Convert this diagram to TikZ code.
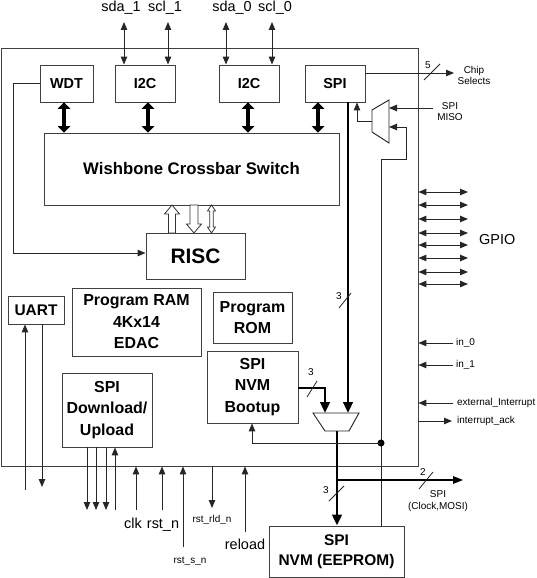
\documentclass[tikz,border=0pt]{standalone}
\usepackage{fontspec}
\setmainfont{Liberation Sans}
\usetikzlibrary{arrows.meta}
\tikzset{
  ln/.style={draw=black!85, line width=0.95bp},
  box/.style={draw=black!75, line width=0.9bp, fill=white, inner sep=0pt, align=center},
  topbox/.style={box, font=\fontsize{14.5}{17}\selectfont\bfseries},
  midbox/.style={box, font=\fontsize{16}{21.5}\selectfont\bfseries},
  arr/.style={ln, -{Triangle[length=8bp,width=6.5bp]}},
  darr/.style={ln, {Triangle[length=8bp,width=6.5bp]}-{Triangle[length=8bp,width=6.5bp]}},
  bus/.style={draw=black, line width=2.8bp, -{Triangle[length=11bp,width=9.5bp]}},
  fat/.style={draw=black, line width=4.5bp, {Triangle[length=6.5bp,width=12.5bp]}-{Triangle[length=6.5bp,width=12.5bp]}},
  hollow/.style={draw=black!80, line width=0.8bp, fill=white},
  lbl/.style={font=\fontsize{14.5}{17}\selectfont, inner sep=0pt},
  sml/.style={font=\fontsize{10}{11.5}\selectfont, inner sep=0pt, align=center},
  slash/.style={draw=black!85, line width=0.8bp},
}
\begin{document}
\begin{tikzpicture}[x=1bp,y=-1bp]
\useasboundingbox (0,0) rectangle (537,578);
\fill[white] (0,0) rectangle (537,578);

% chip outline
\node[draw=black!75, line width=0.9bp, minimum width=417bp, minimum height=418bp, inner sep=0pt] (chip) at (209.5,257) {};

% top blocks
\node[topbox, minimum width=53bp, minimum height=37bp] (wdt) at (66.5,83.5) {WDT};
\node[topbox, minimum width=60bp, minimum height=37bp] (i2ca) at (145,83.5) {I2C};
\node[topbox, minimum width=60bp, minimum height=37bp] (i2cb) at (249,83.5) {I2C};
\node[topbox, minimum width=60bp, minimum height=37bp] (spi) at (335,83.5) {SPI};

\node[box, minimum width=295bp, minimum height=72bp, font=\fontsize{16.8}{19}\selectfont\bfseries] (xbar) at (191.5,169) {\raisebox{-3bp}{Wishbone Crossbar Switch}};
\node[box, minimum width=99bp, minimum height=46bp, font=\fontsize{21}{24}\selectfont\bfseries] (risc) at (195.5,256) {RISC};

\node[box, minimum width=56bp, minimum height=28bp, font=\fontsize{15.5}{18}\selectfont\bfseries] (uart) at (36,310) {UART};
\node[midbox, minimum width=129bp, minimum height=68bp] (ram) at (136.5,322) {Program RAM\\4Kx14\\EDAC};
\node[midbox, minimum width=79bp, minimum height=51bp] (rom) at (252.5,317.5) {Program\\ROM};
\node[midbox, minimum width=91bp, minimum height=72bp] (boot) at (252.5,387) {SPI\\NVM\\Bootup};
\node[midbox, minimum width=90bp, minimum height=74bp] (dl) at (107,410) {SPI\\Download/\\Upload};
\node[box, minimum width=135bp, minimum height=51bp, font=\fontsize{15.5}{20}\selectfont\bfseries] (eep) at (336.5,551.5) {SPI\\NVM (EEPROM)};

% top I/O
\node[lbl, anchor=base] (lsda1) at (121,12) {sda\_1};
\node[lbl, anchor=base] (lscl1) at (165,12) {scl\_1};
\node[lbl, anchor=base] (lsda0) at (232,12) {sda\_0};
\node[lbl, anchor=base] (lscl0) at (275,12) {scl\_0};
\coordinate (psda1) at (124,22);
\coordinate (pscl1) at (168,22);
\coordinate (psda0) at (226,22);
\coordinate (pscl0) at (272,22);
\draw[darr] (psda1) -- (psda1 |- i2ca.north);
\draw[darr] (pscl1) -- (pscl1 |- i2ca.north);
\draw[darr] (psda0) -- (psda0 |- i2cb.north);
\draw[darr] (pscl0) -- (pscl0 |- i2cb.north);

% fat bus arrows to crossbar
\draw[fat] (wdt.south -| 64,0) -- (xbar.north -| 64,0);
\draw[fat] (i2ca.south -| 148,0) -- (xbar.north -| 148,0);
\draw[fat] (i2cb.south -| 248,0) -- (xbar.north -| 248,0);
\draw[fat] (spi.south -| 318,0) -- (xbar.north -| 318,0);

% hollow arrows crossbar <-> RISC
\draw[hollow] (172,205) -- (179.5,214) -- (175.5,214) -- (175.5,233) -- (168.5,233) -- (168.5,214) -- (164.5,214) -- cycle;
\draw[hollow] (194,233) -- (201.5,224) -- (198,224) -- (198,205) -- (190,205) -- (190,224) -- (186.5,224) -- cycle;
\draw[hollow] (211.5,205) -- (215.5,211) -- (213.3,211) -- (213.3,227) -- (215.5,227) -- (211.5,233) -- (207.5,227) -- (209.7,227) -- (209.7,211) -- (207.5,211) -- cycle;

% WDT -> RISC
\draw[arr] (wdt.west) -- (13,83.5) -- (13,253) -- (risc.west |- 0,253);

% SPI outputs
\coordinate (cs) at (454,73);
\draw[arr] (spi.east |- cs) -- (cs);
\draw[slash] (424,80) -- (440,64);
\node[sml] (l5) at (428,65) {5};
\node[sml] (lcs) at (474,75.5) {Chip\\Selects};

% top MISO mux
\draw[ln, fill=white] (372,110) -- (389,100) -- (389,143) -- (372,132) -- cycle;
\coordinate (mmo) at (372,121);
\draw[arr] (mmo) -- (357,121) -- (spi.south -| 357,0);
\coordinate (miso) at (433,108);
\draw[arr] (miso) -- (389,108);
\node[sml] (lmiso) at (450,111.5) {SPI\\MISO};
\draw[arr] (eep.north -| 381,0) -- (381,159) -- (406,159) -- (406,127) -- (389,127);

% bottom mux
\draw[ln, fill=white] (313,413) -- (359,413) -- (349,431) -- (325,431) -- cycle;
\draw[bus] (spi.south -| 348,0) -- (348,413);
\draw[slash] (339,308) -- (351,293);
\node[sml] (l3a) at (339,296) {3};
\draw[bus] (boot.east |- 0,388) -- (325,388) -- (325,413);
\draw[slash] (307,397) -- (317,381);
\node[sml] (l3b) at (311,372) {3};
\draw[bus] (337,431) -- (eep.north -| 337,0);
\draw[slash] (329,501) -- (344,486);
\node[sml] (l3c) at (326,490) {3};
\coordinate (mosi) at (463,480);
\draw[draw=black, line width=1.4bp, -{Triangle[length=10bp,width=7.5bp]}] (337,480) -- (mosi);
\draw[slash] (419,489) -- (433,472);
\node[sml] (l2) at (423,472) {2};
\node[sml] (lmosi) at (438,501) {SPI\\(Clock,MOSI)};

% junction to bootup
\fill[black] (381,443) circle (3.5bp);
\draw[arr] (381,443) -- (252,443) -- (boot.south -| 252,0);

% GPIO
\foreach \yy in {192,205,219,233,245,258,272,284}{
  \draw[darr] (chip.east |- 0,\yy) -- (468,\yy);
}
\node[lbl, anchor=west] (lgpio) at (479,240) {GPIO};

% right inputs
\draw[arr] (453,343) -- (chip.east |- 0,343);
\node[sml, anchor=west] (lin0) at (456,343) {in\_0};
\draw[arr] (453,365) -- (chip.east |- 0,365);
\node[sml, anchor=west] (lin1) at (456,365) {in\_1};
\draw[arr] (453,403) -- (chip.east |- 0,403);
\node[sml, anchor=west] (lext) at (457,403) {external\_Interrupt};
\draw[arr] (chip.east |- 0,421) -- (452,421);
\node[sml, anchor=west] (lack) at (457,421) {interrupt\_ack};

% UART pins
\draw[arr] (25,490) -- (uart.south -| 25,0);
\draw[arr] (uart.south -| 42,0) -- (42,487);

% download pins
\draw[arr] (dl.south -| 87,0) -- (87,510);
\draw[arr] (dl.south -| 96,0) -- (96,510);
\draw[arr] (dl.south -| 106,0) -- (106,510);
\draw[arr] (115,510) -- (dl.south -| 115,0);

% bottom signals
\draw[arr] (136,510) -- (chip.south -| 136,0);
\node[lbl, anchor=base] (lclk) at (133,528) {clk};
\draw[arr] (162,510) -- (chip.south -| 162,0);
\node[lbl, anchor=base] (lrst) at (163,528) {rst\_n};
\draw[arr] (183,547) -- (chip.south -| 183,0);
\node[sml] (lrsts) at (190,561) {rst\_s\_n};
\draw[arr] (chip.south -| 212,0) -- (212,508);
\node[sml] (lrld) at (212,520) {rst\_rld\_n};
\draw[arr] (245,532) -- (chip.south -| 245,0);
\node[lbl] (lrel) at (245,544) {reload};
\end{tikzpicture}
\end{document}
